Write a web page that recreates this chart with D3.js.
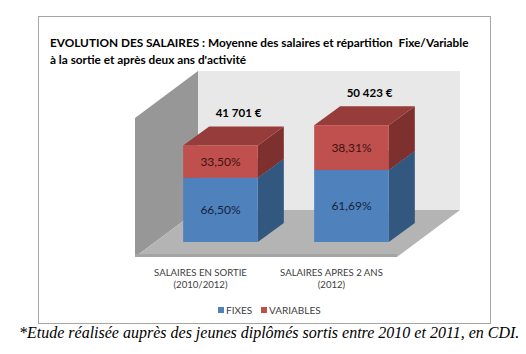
<!DOCTYPE html>
<html>
<head>
<meta charset="utf-8">
<script src="https://d3js.org/d3.v7.min.js"></script>
<style>
  body { margin: 0; background: #fff; }
  svg { display: block; }
  text { white-space: pre; }
</style>
</head>
<body>
<svg id="chart" width="526" height="354"></svg>
<script>
// donnees du graphique
var categories = ['SALAIRES EN SORTIE', 'SALAIRES APRES 2 ANS'];
var categoryYears = ['(2010/2012)', '(2012)'];
var totals = [41701, 50423];
var fixesPct = [66.50, 61.69];
var variablesPct = [33.50, 38.31];
var seriesNames = ['FIXES', 'VARIABLES'];
var yMax = 60000;

var titleLines = [
  'EVOLUTION DES SALAIRES : Moyenne des salaires et r\u00e9partition  Fixe/Variable',
  '\u00e0 la sortie et apr\u00e8s deux ans d\'activit\u00e9'
];
var footnote = '*Etude r\u00e9alis\u00e9e aupr\u00e8s des jeunes dipl\u00f4m\u00e9s sortis entre 2010 et 2011, en CDI.';

var font = 'Lato, "Open Sans", sans-serif';
var svg = d3.select('#chart');

// cadre du graphique
svg.append('rect')
  .attr('x', 38.5).attr('y', 16.5)
  .attr('width', 452).attr('height', 307)
  .attr('fill', '#fff').attr('stroke', '#a6a6a6');

// titre
svg.selectAll('.title')
  .data(titleLines)
  .enter().append('text')
  .attr('class', 'title')
  .attr('x', 50)
  .attr('y', function(d, i) { return 47 + i * 17; })
  .attr('font-family', font)
  .attr('font-weight', 'bold')
  .attr('font-size', '11.8px')
  .attr('fill', '#000')
  .text(function(d) { return d; });

// plan avant : x de 135 a 397, y de 257 a 118
var x = d3.scaleBand()
  .domain(categories)
  .range([135, 397])
  .paddingInner(0.43)
  .paddingOuter(0.215);

var y = d3.scaleLinear()
  .domain([0, yMax])
  .range([257, 118]);

// profondeur du plancher et des barres
var depth = {dx: 63, dy: -47};
var barOff = {dx: 20, dy: -15};
var barDepth = {dx: 26, dy: -19};

var x0 = x.range()[0], x1 = x.range()[1];
var yb = y(0), yt = y(yMax);

// mur du fond
svg.append('rect')
  .attr('x', x0 + depth.dx).attr('y', yt + depth.dy)
  .attr('width', x1 - x0).attr('height', yb - yt)
  .attr('fill', '#e8e8e8');

// mur de gauche
svg.append('polygon')
  .attr('points', [[x0, yt], [x0 + depth.dx, yt + depth.dy], [x0 + depth.dx, yb + depth.dy], [x0, yb]].join(' '))
  .attr('fill', '#979797');

// plancher
svg.append('polygon')
  .attr('points', [[x0, yb], [x0 + depth.dx, yb + depth.dy], [x1 + depth.dx, yb + depth.dy], [x1, yb]].join(' '))
  .attr('fill', '#b4b4b4');
svg.append('line')
  .attr('x1', x0).attr('x2', x1)
  .attr('y1', yb - 1.5).attr('y2', yb - 1.5)
  .attr('stroke', '#a4a4a4').attr('stroke-width', 3);

// segments empiles
var segments = [];
categories.forEach(function(c, i) {
  var fix = totals[i] * fixesPct[i] / 100;
  segments.push({cat: c, v0: 0, v1: fix, pct: fixesPct[i], serie: 0});
  segments.push({cat: c, v0: fix, v1: totals[i], pct: variablesPct[i], serie: 1});
});

var colors = [
  {front: '#4f81bd', top: '#3f6a9e', side: '#33587f', text: '#14243a'},
  {front: '#c0504d', top: '#963d3b', side: '#7d302e', text: '#3c1312'}
];

var bw = x.bandwidth();
var boxes = svg.selectAll('.seg')
  .data(segments)
  .enter().append('g')
  .attr('class', 'seg');

boxes.each(function(d) {
  var g = d3.select(this);
  var c = colors[d.serie];
  var L = x(d.cat) + barOff.dx, R = L + bw;
  var T = y(d.v1) + barOff.dy, B = y(d.v0) + barOff.dy;
  var dx = barDepth.dx, dy = barDepth.dy;
  g.append('polygon')
    .attr('points', [[R, T], [R + dx, T + dy], [R + dx, B + dy], [R, B]].join(' '))
    .attr('fill', c.side);
  g.append('polygon')
    .attr('points', [[L, T], [L + dx, T + dy], [R + dx, T + dy], [R, T]].join(' '))
    .attr('fill', c.top);
  g.append('rect')
    .attr('x', L).attr('y', T)
    .attr('width', bw).attr('height', B - T)
    .attr('fill', c.front);
  g.append('text')
    .attr('x', L + bw / 2)
    .attr('y', (T + B) / 2 + 4)
    .attr('text-anchor', 'middle')
    .attr('font-family', font)
    .attr('font-size', '12px')
    .attr('fill', c.text)
    .text(d3.format('.2f')(d.pct).replace('.', ',') + '%');
});

// totaux au-dessus des barres
var fmtEuro = function(v) { return d3.format(',')(v).replace(',', ' ') + ' \u20ac'; };
svg.selectAll('.total')
  .data(totals)
  .enter().append('text')
  .attr('class', 'total')
  .attr('x', function(d, i) { return x(categories[i]) + barOff.dx + bw / 2 + 18; })
  .attr('y', function(d) { return y(d) + barOff.dy + barDepth.dy - 9; })
  .attr('text-anchor', 'middle')
  .attr('font-family', font)
  .attr('font-weight', 'bold')
  .attr('font-size', '11.5px')
  .attr('fill', '#000')
  .text(fmtEuro);

// libelles des categories
var catG = svg.selectAll('.cat')
  .data(categories)
  .enter().append('text')
  .attr('class', 'cat')
  .attr('text-anchor', 'middle')
  .attr('font-family', font)
  .attr('font-size', '9.6px')
  .attr('fill', '#404040');
catG.append('tspan')
  .attr('x', function(d) { return x(d) + bw / 2; })
  .attr('y', 276)
  .text(function(d) { return d; });
catG.append('tspan')
  .attr('x', function(d) { return x(d) + bw / 2; })
  .attr('y', 288)
  .text(function(d, i) { return categoryYears[i]; });

// legende
var legX = [218, 261];
var leg = svg.selectAll('.leg')
  .data(seriesNames)
  .enter().append('g')
  .attr('class', 'leg')
  .attr('transform', function(d, i) { return 'translate(' + legX[i] + ',307)'; });
leg.append('rect')
  .attr('width', 6).attr('height', 6)
  .attr('fill', function(d, i) { return colors[i].front; });
leg.append('text')
  .attr('x', 8).attr('y', 7)
  .attr('font-family', font)
  .attr('font-size', '10px')
  .attr('fill', '#404040')
  .text(function(d) { return d; });

// note de bas de page
svg.append('text')
  .attr('x', 19).attr('y', 338)
  .attr('font-family', '"Liberation Serif", "DejaVu Serif", serif')
  .attr('font-style', 'italic')
  .attr('font-size', '16px')
  .attr('fill', '#000')
  .text(footnote);
</script>
</body>
</html>
